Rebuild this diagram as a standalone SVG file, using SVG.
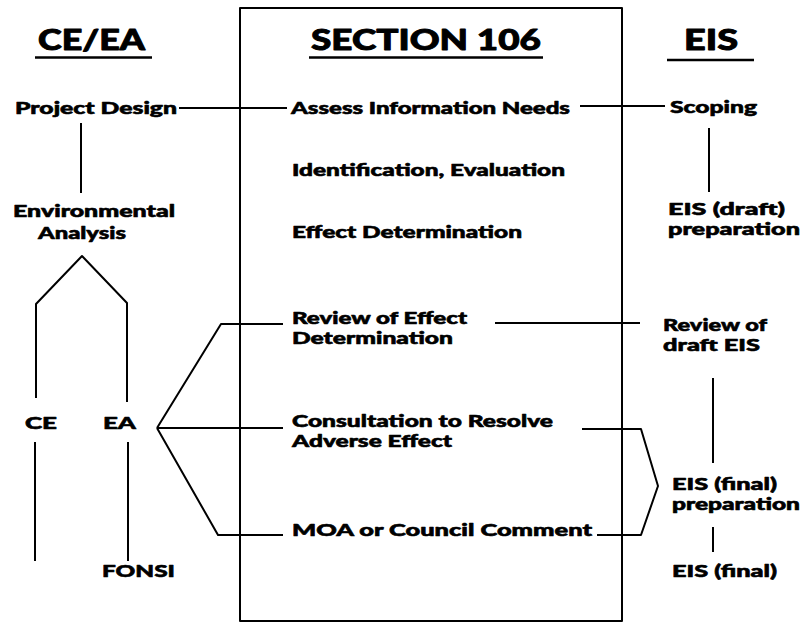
<svg xmlns="http://www.w3.org/2000/svg" width="803" height="623" viewBox="0 0 803 623">
<style>
text{font-family:Lato,"Open Sans","Liberation Sans",sans-serif;font-weight:900;fill:#000;stroke:#000;stroke-width:0.6;stroke-linejoin:round}
.h{font-size:28px;stroke-width:0.9}
.t{font-size:17px}
.ln{fill:none;stroke:#000;stroke-width:2;stroke-linejoin:round;stroke-linecap:butt}
.ul{stroke:#000;stroke-width:2.5}
</style>
<rect width="803" height="623" fill="#fff"/>
<g id="section106-box"><rect x="240" y="8" width="382" height="613" class="ln"/></g>
<g id="headers">
<text class="h" x="38" y="50" textLength="107" lengthAdjust="spacingAndGlyphs">CE/EA</text>
<line class="ul" x1="35" y1="57.5" x2="152" y2="57.5"/>
<text class="h" x="311" y="50" textLength="230" lengthAdjust="spacingAndGlyphs">SECTION 106</text>
<line class="ul" x1="309" y1="57.5" x2="543" y2="57.5"/>
<text class="h" x="684" y="50" textLength="54" lengthAdjust="spacingAndGlyphs">EIS</text>
<line class="ul" x1="667" y1="60" x2="754" y2="60"/>
</g>
<g id="n-project-design"><text class="t" x="15" y="114" textLength="162" lengthAdjust="spacingAndGlyphs">Project Design</text></g>
<g id="n-env-analysis"><text class="t" x="13" y="217" textLength="162" lengthAdjust="spacingAndGlyphs">Environmental</text><text class="t" x="38" y="239" textLength="88" lengthAdjust="spacingAndGlyphs">Analysis</text></g>
<g id="n-ce"><text class="t" x="25" y="429" textLength="32" lengthAdjust="spacingAndGlyphs">CE</text></g>
<g id="n-ea"><text class="t" x="103" y="429" textLength="33" lengthAdjust="spacingAndGlyphs">EA</text></g>
<g id="n-fonsi"><text class="t" x="102" y="577" textLength="73" lengthAdjust="spacingAndGlyphs">FONSI</text></g>
<g id="n-assess"><text class="t" x="291" y="114" textLength="279" lengthAdjust="spacingAndGlyphs">Assess Information Needs</text></g>
<g id="n-identification"><text class="t" x="292" y="176" textLength="273" lengthAdjust="spacingAndGlyphs">Identification, Evaluation</text></g>
<g id="n-effect"><text class="t" x="292" y="238" textLength="230" lengthAdjust="spacingAndGlyphs">Effect Determination</text></g>
<g id="n-review-effect"><text class="t" x="292" y="324" textLength="175" lengthAdjust="spacingAndGlyphs">Review of Effect</text><text class="t" x="292" y="344" textLength="161" lengthAdjust="spacingAndGlyphs">Determination</text></g>
<g id="n-consultation"><text class="t" x="292" y="427" textLength="261" lengthAdjust="spacingAndGlyphs">Consultation to Resolve</text><text class="t" x="292" y="447" textLength="160" lengthAdjust="spacingAndGlyphs">Adverse Effect</text></g>
<g id="n-moa"><text class="t" x="292" y="536" textLength="300" lengthAdjust="spacingAndGlyphs">MOA or Council Comment</text></g>
<g id="n-scoping"><text class="t" x="670" y="113" textLength="87" lengthAdjust="spacingAndGlyphs">Scoping</text></g>
<g id="n-eis-draft"><text class="t" x="668" y="215" textLength="117" lengthAdjust="spacingAndGlyphs">EIS (draft)</text><text class="t" x="668" y="235" textLength="132" lengthAdjust="spacingAndGlyphs">preparation</text></g>
<g id="n-review-draft"><text class="t" x="663" y="331" textLength="104" lengthAdjust="spacingAndGlyphs">Review of</text><text class="t" x="663" y="351" textLength="97" lengthAdjust="spacingAndGlyphs">draft EIS</text></g>
<g id="n-eis-final-prep"><text class="t" x="672" y="490" textLength="105" lengthAdjust="spacingAndGlyphs">EIS (final)</text><text class="t" x="672" y="510" textLength="128" lengthAdjust="spacingAndGlyphs">preparation</text></g>
<g id="n-eis-final"><text class="t" x="672" y="577" textLength="105" lengthAdjust="spacingAndGlyphs">EIS (final)</text></g>
<g id="connectors" class="ln">
<line x1="179" y1="108" x2="287" y2="108"/>
<line x1="580" y1="106" x2="665" y2="106"/>
<line x1="81" y1="123" x2="81" y2="193"/>
<path d="M36,398 V304 L82,256 L127,303 V402"/>
<line x1="35" y1="442" x2="35" y2="561"/>
<line x1="128" y1="442" x2="128" y2="561"/>
<polyline points="283,324 221,324 157,428"/>
<line x1="157" y1="428" x2="283" y2="428"/>
<polyline points="157,428 218,535 283,535"/>
<line x1="495" y1="323" x2="640" y2="323"/>
<polyline points="582,429 641,429 658,486 641,535 597,535"/>
<line x1="709" y1="128" x2="709" y2="192"/>
<line x1="713" y1="378" x2="713" y2="463"/>
<line x1="713" y1="527" x2="713" y2="552"/>
</g>
</svg>
